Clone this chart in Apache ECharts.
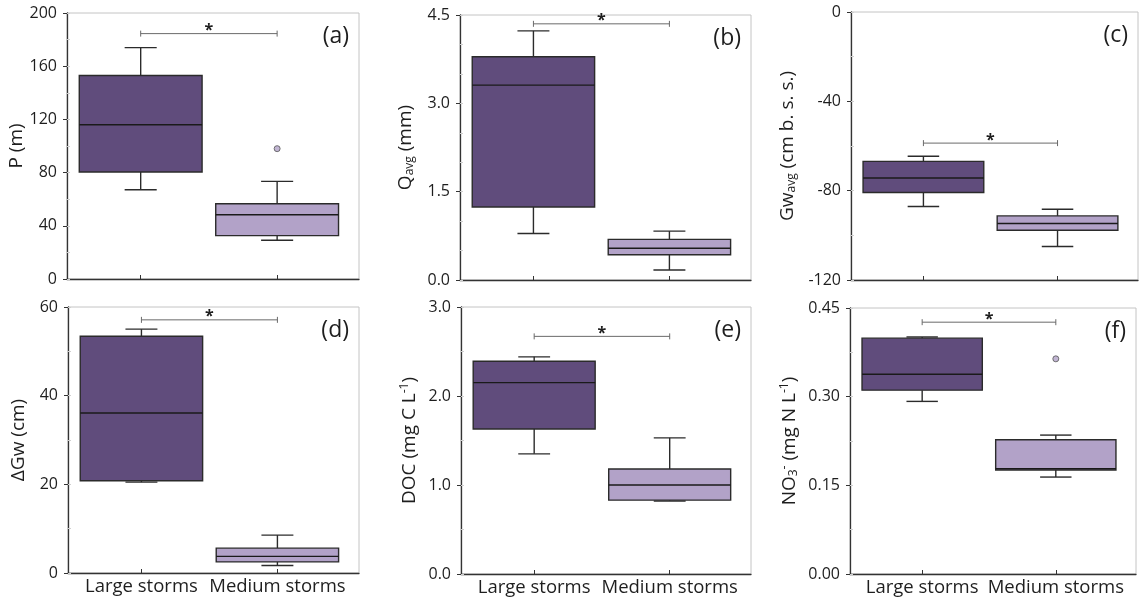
<!DOCTYPE html>
<html>
<head>
<meta charset="utf-8">
<script src="https://cdn.jsdelivr.net/npm/echarts@6/dist/echarts.min.js"></script>
<style>
  html, body { margin: 0; padding: 0; background: #fff; }
  #chart { width: 1139px; height: 600px; }
</style>
</head>
<body>
<div id="chart"></div>
<script>
// Storm classes on the x axis
const categories = ['Large storms', 'Medium storms'];

// Five-number summaries per storm class: [min, Q1, median, Q3, max]
const precipBoxes = [[67.1, 80.5, 116.0, 153.0, 174.0], [29.1, 32.6, 48.3, 56.6, 73.4]];
const flowBoxes   = [[0.79, 1.24, 3.31, 3.79, 4.23], [0.17, 0.43, 0.54, 0.69, 0.83]];
const gwBoxes     = [[-87.1, -80.8, -74.3, -66.9, -64.6], [-105.0, -97.7, -94.7, -91.3, -88.3]];
const dGwBoxes    = [[20.5, 20.8, 36.1, 53.4, 55.0], [1.7, 2.5, 3.75, 5.6, 8.55]];
const docBoxes    = [[1.35, 1.63, 2.15, 2.39, 2.44], [0.82, 0.83, 1.00, 1.18, 1.53]];
const no3Boxes    = [[0.292, 0.311, 0.338, 0.399, 0.401], [0.164, 0.176, 0.178, 0.227, 0.235]];

// Outliers: [category index, value]
const precipOutliers = [[1, 98.0]];
const no3Outliers    = [[1, 0.364]];

// Height of the significance bracket in each panel
const precipBracket = 184.5;
const flowBracket   = 4.35;
const gwBracket     = -58.7;
const dGwBracket    = 57.1;
const docBracket    = 2.67;
const no3Bracket    = 0.426;

// Y scales: [min, max, interval, decimals]
const precipTicks = [0, 200, 40, 0];
const flowTicks   = [0, 4.5, 1.5, 1];
const gwTicks     = [-120, 0, 40, 0];
const dGwTicks    = [0, 60, 20, 0];
const docTicks    = [0, 3, 1, 1];
const no3Ticks    = [0, 0.45, 0.15, 2];

const panelLabels = ['(a)', '(b)', '(c)', '(d)', '(e)', '(f)'];

const DARK = '#604c7c';
const LIGHT = '#b2a2c8';
const INK = '#1e1e1e';
const FONT = '"Open Sans", "DejaVu Sans", sans-serif';

const richName = {
  n:   { fontSize: 19, fontFamily: FONT, color: INK },
  sub: { fontSize: 12, fontFamily: FONT, color: INK, padding: [9, 0, 0, 0] },
  sup: { fontSize: 12, fontFamily: FONT, color: INK, padding: [0, 0, 9, 0] }
};

const panels = [
  { boxes: precipBoxes, outliers: precipOutliers, bracket: precipBracket, ticks: precipTicks, minorSplit: 2,
    name: '{n|P (m)}', nameGap: 34,
    grid: { left: 67, top: 13, width: 292, height: 266 }, showX: false },
  { boxes: flowBoxes, outliers: [], bracket: flowBracket, ticks: flowTicks, minorSplit: 3,
    name: '{n|Q}{sub|avg}{n| (mm)}', nameGap: 44,
    grid: { left: 460, top: 15, width: 291, height: 265 }, showX: false },
  { boxes: gwBoxes, outliers: [], bracket: gwBracket, ticks: gwTicks, minorSplit: 2,
    name: '{n|Gw}{sub|avg}{n| (cm b. s. s.)}', nameGap: 53,
    grid: { left: 851, top: 12, width: 287, height: 268 }, showX: false },
  { boxes: dGwBoxes, outliers: [], bracket: dGwBracket, ticks: dGwTicks, minorSplit: 2,
    name: '{n|ΔGw (cm)}', nameGap: 40,
    grid: { left: 68, top: 307, width: 291, height: 266 }, showX: true },
  { boxes: docBoxes, outliers: [], bracket: docBracket, ticks: docTicks, minorSplit: 2,
    name: '{n|DOC (mg C L}{sup|-1}{n|)}', nameGap: 41,
    grid: { left: 461, top: 307, width: 290, height: 267 }, showX: true },
  { boxes: no3Boxes, outliers: no3Outliers, bracket: no3Bracket, ticks: no3Ticks, minorSplit: 2,
    name: '{n|NO}{sub|3}{sup|-}{n| (mg N L}{sup|-1}{n|)}', nameGap: 50,
    grid: { left: 850, top: 308, width: 286, height: 266 }, showX: true }
];

const X_MIN = -0.54, X_MAX = 1.60;

function renderBox(params, api) {
  const x = api.value(0);
  const lo = api.coord([x, api.value(1)]);
  const q1 = api.coord([x, api.value(2)]);
  const md = api.coord([x, api.value(3)]);
  const q3 = api.coord([x, api.value(4)]);
  const hi = api.coord([x, api.value(5)]);
  const boxW = api.size([0.9, 0])[0];
  const capW = api.size([0.235, 0])[0];
  const cx = q1[0];
  const fill = x === 0 ? DARK : LIGHT;
  const edge = { stroke: '#2b2b2b', lineWidth: 1.4 };
  return {
    type: 'group',
    children: [
      { type: 'line', shape: { x1: cx, y1: hi[1], x2: cx, y2: q3[1] }, style: edge },
      { type: 'line', shape: { x1: cx, y1: q1[1], x2: cx, y2: lo[1] }, style: edge },
      { type: 'line', shape: { x1: cx - capW / 2, y1: hi[1], x2: cx + capW / 2, y2: hi[1] }, style: edge },
      { type: 'line', shape: { x1: cx - capW / 2, y1: lo[1], x2: cx + capW / 2, y2: lo[1] }, style: edge },
      { type: 'rect', shape: { x: cx - boxW / 2, y: q3[1], width: boxW, height: q1[1] - q3[1] },
        style: { fill: fill, stroke: '#2b2b2b', lineWidth: 1.4 } },
      { type: 'line', shape: { x1: cx - boxW / 2, y1: md[1], x2: cx + boxW / 2, y2: md[1] },
        style: { stroke: '#1a1a1a', lineWidth: 1.4 } }
    ]
  };
}

function renderBracket(params, api) {
  const y = api.value(0);
  const a = api.coord([0, y]);
  const b = api.coord([1, y]);
  const s = { stroke: '#6a6a6a', lineWidth: 1 };
  return {
    type: 'group',
    children: [
      { type: 'line', shape: { x1: a[0], y1: a[1], x2: b[0], y2: b[1] }, style: s },
      { type: 'line', shape: { x1: a[0], y1: a[1] - 3, x2: a[0], y2: a[1] + 3 }, style: s },
      { type: 'line', shape: { x1: b[0], y1: b[1] - 3, x2: b[0], y2: b[1] + 3 }, style: s },
      { type: 'text', x: (a[0] + b[0]) / 2, y: a[1] + 5,
        style: { text: '*', fill: INK, font: 'bold 16px ' + FONT, align: 'center', verticalAlign: 'bottom' } }
    ]
  };
}

const grids = [], xAxes = [], yAxes = [], series = [], graphics = [];

panels.forEach(function (p, i) {
  const [ymin, ymax, step, dec] = p.ticks;
  grids.push(Object.assign({ show: true, borderColor: '#c4c4c4', borderWidth: 1, containLabel: false }, p.grid));

  xAxes.push({
    type: 'value', gridIndex: i, min: X_MIN, max: X_MAX,
    axisLine: { show: true, onZero: false, lineStyle: { color: '#333', width: 1.3 } },
    axisTick: { show: true, inside: true, length: 4, customValues: [0, 1], lineStyle: { color: '#333' } },
    axisLabel: {
      show: p.showX, customValues: [0, 1], margin: 4, fontSize: 18.5, fontFamily: FONT, color: INK,
      formatter: function (v) { return categories[Math.round(v)]; }
    },
    splitLine: { show: false }
  });

  // main scale with outward ticks and labels
  yAxes.push({
    type: 'value', gridIndex: i, min: ymin, max: ymax, interval: step, position: 'left',
    name: p.name, nameLocation: 'middle', nameRotate: 90, nameGap: p.nameGap,
    nameTextStyle: { rich: richName },
    axisLine: { show: true, onZero: false, lineStyle: { color: '#333', width: 1.3 } },
    axisTick: { show: true, inside: false, length: 4, lineStyle: { color: '#333' } },
    axisLabel: { margin: 10, fontSize: 16, fontFamily: FONT, color: INK,
      formatter: function (v) { return Number(v).toFixed(dec); } },
    splitLine: { show: false }
  });
  // faint inward minor ticks
  yAxes.push({
    type: 'value', gridIndex: i, min: ymin, max: ymax, interval: step / p.minorSplit, position: 'left',
    axisLine: { show: false, onZero: false },
    axisTick: { show: true, inside: true, length: 3, lineStyle: { color: '#cfcfcf' } },
    axisLabel: { show: false },
    splitLine: { show: false }
  });

  const yIdx = i * 2;
  series.push({
    type: 'custom', xAxisIndex: i, yAxisIndex: yIdx, renderItem: renderBox,
    data: p.boxes.map(function (b, k) { return [k].concat(b); }),
    encode: { x: 0, y: [1, 2, 3, 4, 5] }, z: 3
  });
  if (p.outliers.length) {
    series.push({
      type: 'scatter', xAxisIndex: i, yAxisIndex: yIdx, data: p.outliers, symbolSize: 6,
      itemStyle: { color: LIGHT, borderColor: '#555', borderWidth: 1 }, z: 4
    });
  }
  series.push({
    type: 'custom', xAxisIndex: i, yAxisIndex: yIdx, renderItem: renderBracket,
    data: [[p.bracket]], encode: { y: 0 }, z: 4
  });

  graphics.push({
    type: 'text', right: 1139 - (p.grid.left + p.grid.width) + 10, top: p.grid.top + 12,
    style: { text: panelLabels[i], font: '23px ' + FONT, fill: INK }
  });
});

const chart = echarts.init(document.getElementById('chart'), null, { renderer: 'canvas' });
chart.setOption({
  animation: false,
  backgroundColor: '#fff',
  grid: grids, xAxis: xAxes, yAxis: yAxes, series: series, graphic: graphics
});
</script>
</body>
</html>
